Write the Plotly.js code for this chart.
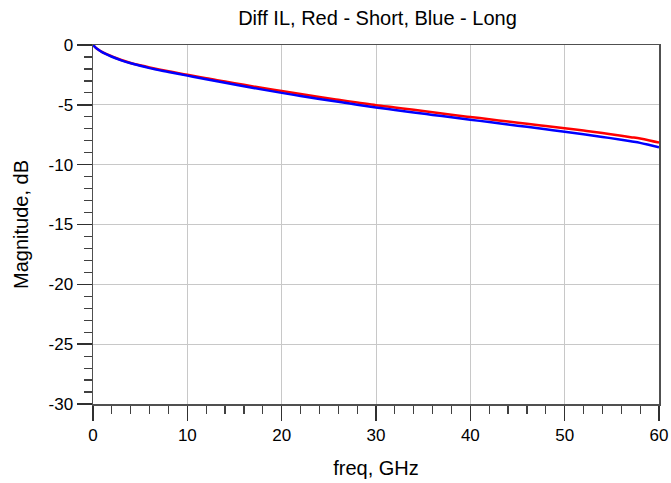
<!DOCTYPE html>
<html>
<head>
<meta charset="utf-8">
<script src="https://cdn.plot.ly/plotly-3.0.1.min.js"></script>
<style>html,body{margin:0;padding:0;background:#fff;}#chart{width:671px;height:483px;}</style>
</head>
<body>
<div id="chart"></div>
<script>
const freq = [0, 0.25, 0.5, 1, 2, 3, 4, 5, 6, 8, 10, 12, 14, 16, 18, 20, 22, 24, 26, 28, 30, 32, 34, 36, 38, 40, 42, 44, 46, 48, 50, 52, 54, 56, 57, 58, 59, 60];
const shortIL = [0, -0.2, -0.35, -0.6, -0.95, -1.25, -1.5, -1.7, -1.88, -2.2, -2.48, -2.78, -3.05, -3.33, -3.6, -3.85, -4.1, -4.35, -4.58, -4.8, -5.03, -5.22, -5.42, -5.62, -5.82, -6.02, -6.2, -6.4, -6.58, -6.77, -6.96, -7.15, -7.35, -7.58, -7.7, -7.82, -7.98, -8.16];
const longIL = [0, -0.2, -0.36, -0.62, -0.98, -1.28, -1.53, -1.74, -1.93, -2.25, -2.56, -2.87, -3.16, -3.45, -3.73, -4.0, -4.26, -4.51, -4.75, -4.99, -5.22, -5.43, -5.64, -5.84, -6.04, -6.24, -6.44, -6.64, -6.84, -7.04, -7.24, -7.45, -7.68, -7.92, -8.05, -8.18, -8.36, -8.55];
const yTickVals = [0, -5, -10, -15, -20, -25, -30];
const yTickText = ['0', '-5', '-10', '-15', '-20', '-25', '-30'];
const xTickVals = [0, 10, 20, 30, 40, 50, 60];
const xTickText = ['0', '10', '20', '30', '40', '50', '60'];

const font = 'Liberation Sans, Arial, sans-serif';
const traces = [
  {x: freq, y: shortIL, mode: 'lines', line: {color: '#ff0000', width: 2.5, shape: 'spline'}, name: 'Short'},
  {x: freq, y: longIL, mode: 'lines', line: {color: '#0000ff', width: 2.5, shape: 'spline'}, name: 'Long'}
];
const axisCommon = {
  showline: true, mirror: true, linecolor: '#505050', linewidth: 1.5,
  showgrid: true, gridcolor: '#c8c8c8', gridwidth: 1, zeroline: false,
  ticks: 'outside', tickcolor: '#303030', tickwidth: 1.5,
  tickfont: {family: font, size: 17, color: '#000'},
  tickmode: 'array'
};
const layout = {
  width: 671, height: 483,
  margin: {l: 93, r: 12, t: 45, b: 79},
  paper_bgcolor: '#fff', plot_bgcolor: '#fff',
  showlegend: false,
  title: {text: 'Diff IL, Red - Short, Blue - Long', font: {family: font, size: 20, color: '#000'}, x: 0.5626, xanchor: 'center', y: 0.962, yanchor: 'middle'},
  xaxis: Object.assign({}, axisCommon, {
    range: [0, 60], tickvals: xTickVals, ticktext: xTickText, ticklen: 15,
    minor: {dtick: 2, tick0: 0, ticks: 'outside', ticklen: 8, tickcolor: '#404040', tickwidth: 1.2, showgrid: false},
    title: {text: 'freq, GHz', font: {family: font, size: 20, color: '#000'}, standoff: 17}
  }),
  yaxis: Object.assign({}, axisCommon, {
    range: [-30, 0], tickvals: yTickVals, ticktext: yTickText, ticklen: 15,
    minor: {dtick: 1, tick0: 0, ticks: 'outside', ticklen: 8, tickcolor: '#404040', tickwidth: 1.2, showgrid: false},
    title: {text: 'Magnitude, dB', font: {family: font, size: 20, color: '#000'}, standoff: 14}
  })
};
Plotly.newPlot('chart', traces, layout, {staticPlot: true, displayModeBar: false});
</script>
</body>
</html>
